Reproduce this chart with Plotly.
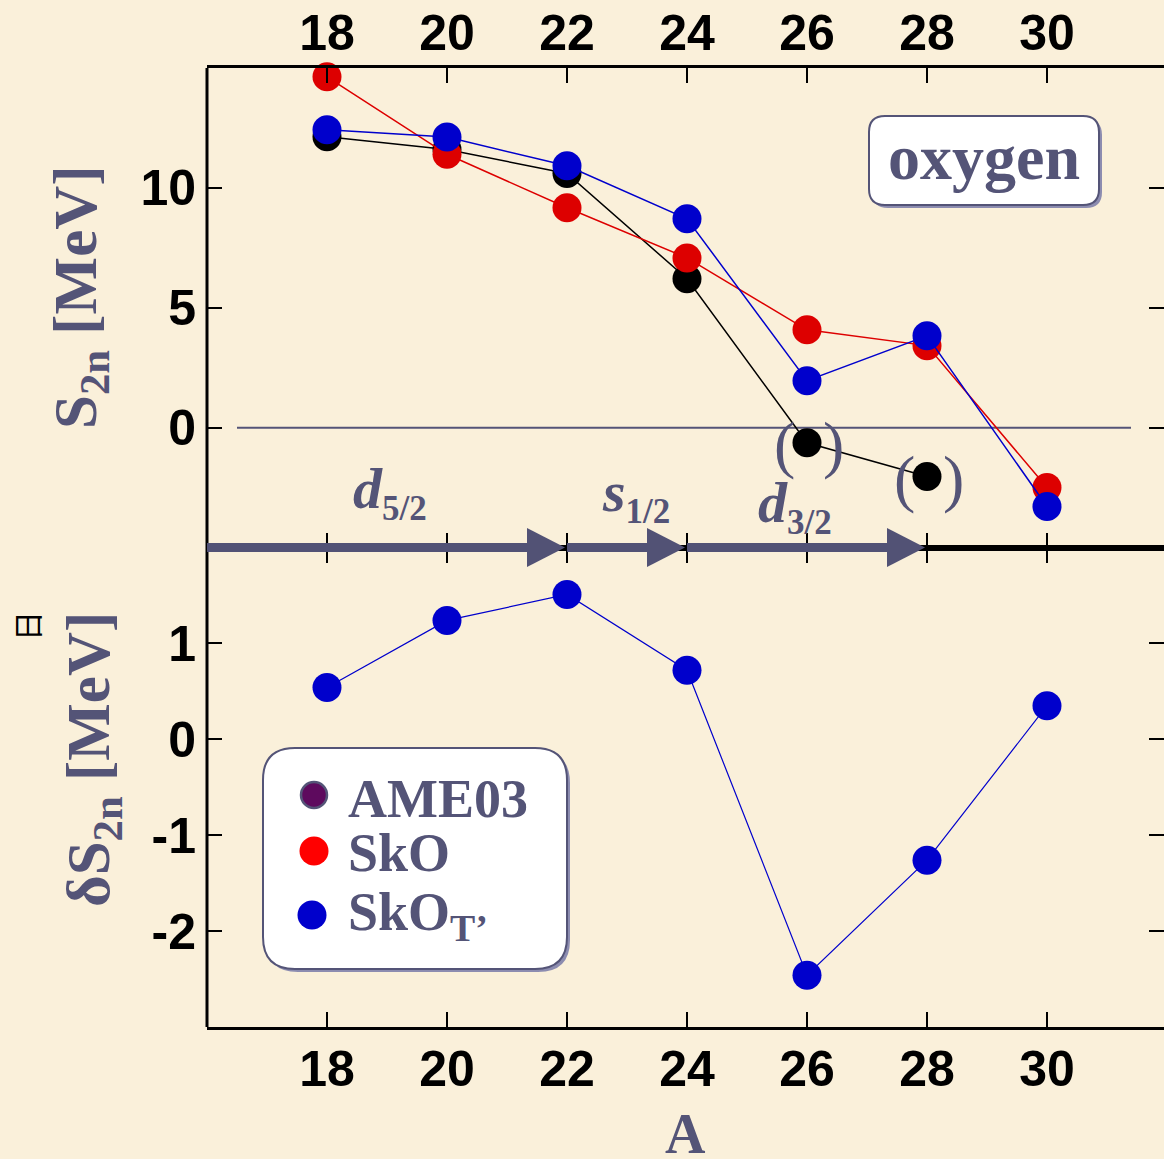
import plotly.graph_objects as go

# ---- data -------------------------------------------------------------
A = [18, 20, 22, 24, 26, 28, 30]
s2n_ame03 = [12.13, 11.6, 10.6, 6.21, -0.63, -2.04, None]
s2n_sko = [14.63, 11.4, 9.17, 7.08, 4.08, 3.42, -2.5]
s2n_skot = [12.42, 12.12, 10.92, 8.71, 1.96, 3.83, -3.29]
ds2n_skot = [0.54, 1.24, 1.51, 0.72, -2.46, -1.26, 0.35]

a_ticks = [18, 20, 22, 24, 26, 28, 30]
s2n_ticks = [0, 5, 10]
ds2n_ticks = [-2, -1, 0, 1]
ds2n_ticktext = ["-2", "-1", "0", "1"]

shell_start = [16, 22, 24]
shell_end = [22, 24, 28]
shell_orbit = ["d", "s", "d"]
shell_j = ["5/2", "1/2", "3/2"]
unbound_A = [26, 28]          # AME03 values shown in parentheses

series_names = ["AME03", "SkO", "SkO<sub>T’</sub>"]

# ---- layout constants -------------------------------------------------
W, H = 1164, 1159
ML, MR, MT, MB = 207, 0, 68, 132
X_RANGE = [16, 16 + (W - ML - MR) / 60.0]
Y_TOP = [-5, 15]
Y_BOT = [-3, 2]

SLATE = "#545477"
SERIF = "Liberation Serif"
SANS = "Liberation Sans"
BG = "#faf0da"
RED, BLUE, BLACK = "#dd0000", "#0000cc", "#000000"


def px_x(px):
    return (px - ML) / (W - ML - MR)


def px_y(py):
    return (H - MB - py) / (H - MT - MB)


def a_to_paper(a):
    return (a - X_RANGE[0]) / (X_RANGE[1] - X_RANGE[0])


def rounded_rect(w, h, r):
    x0, x1, y0, y1 = -w / 2, w / 2, -h / 2, h / 2
    return (f"M {x0 + r},{y0} L {x1 - r},{y0} Q {x1},{y0} {x1},{y0 + r} "
            f"L {x1},{y1 - r} Q {x1},{y1} {x1 - r},{y1} L {x0 + r},{y1} "
            f"Q {x0},{y1} {x0},{y1 - r} L {x0},{y0 + r} Q {x0},{y0} {x0 + r},{y0} Z")


fig = go.Figure()

# ---- S2n panel --------------------------------------------------------
for vals, col in [(s2n_ame03, BLACK), (s2n_sko, RED), (s2n_skot, BLUE)]:
    fig.add_trace(go.Scatter(
        x=A, y=vals, mode="lines+markers", xaxis="x", yaxis="y",
        line=dict(color=col, width=1.5),
        marker=dict(color=col, size=29, line=dict(width=0)),
        showlegend=False, cliponaxis=False, hoverinfo="x+y"))

# ---- delta S2n panel --------------------------------------------------
fig.add_trace(go.Scatter(
    x=A, y=ds2n_skot, mode="lines+markers", xaxis="x2", yaxis="y2",
    line=dict(color=BLUE, width=1.2),
    marker=dict(color=BLUE, size=29, line=dict(width=0)),
    showlegend=False, cliponaxis=False))

shapes = []
annotations = []

# zero line of the S2n panel
shapes.append(dict(type="line", xref="x", yref="y", x0=16.5, x1=31.4, y0=0, y1=0,
                   line=dict(color=SLATE, width=2), layer="below"))

# left frame line
shapes.append(dict(type="line", xref="paper", yref="paper", x0=0, x1=0, y0=0, y1=1,
                   line=dict(color="black", width=3)))

# shell-filling arrows along the panel boundary
for s, e in zip(shell_start, shell_end):
    shapes.append(dict(type="line", xref="paper", yref="paper",
                       x0=a_to_paper(s), x1=a_to_paper(e) - 20 / 957, y0=0.5, y1=0.5,
                       line=dict(color="#525275", width=9)))
    shapes.append(dict(type="path", xref="paper", yref="paper",
                       xsizemode="pixel", ysizemode="pixel",
                       xanchor=a_to_paper(e), yanchor=0.5,
                       path="M -40,19.5 L -2,0 L -40,-19.5 Z",
                       fillcolor="#525275", line=dict(width=0)))

shell_label_x = [19.05, 23.15, 25.8]
shell_label_y = [px_y(492), px_y(495), px_y(506)]
for orb, j, lx, ly in zip(shell_orbit, shell_j, shell_label_x, shell_label_y):
    annotations.append(dict(
        x=a_to_paper(lx), y=ly, xref="paper", yref="paper",
        text=f"<i>{orb}</i><sub><span style='font-size:35px'>{j}</span></sub>",
        showarrow=False, xanchor="center", yanchor="middle",
        font=dict(family=SERIF, size=58, color=SLATE, weight="bold")))

# parentheses around the unbound AME03 values
for a in unbound_A:
    v = s2n_ame03[A.index(a)]
    for ch, dx in [("(", -23), (")", 26)]:
        annotations.append(dict(x=a, y=v, xref="x", yref="y", text=ch, showarrow=False,
                                xshift=dx, yshift=-2, xanchor="center", yanchor="middle",
                                font=dict(family=SERIF, size=64, color=SLATE)))

# "oxygen" label box
ox_cx, ox_cy = px_x(984), px_y(160.5)
shapes.append(dict(type="path", xref="paper", yref="paper", xsizemode="pixel",
                   ysizemode="pixel", xanchor=ox_cx + 3 / 957, yanchor=ox_cy - 3 / 959,
                   path=rounded_rect(230, 89, 16), fillcolor="#8c8cb0", line=dict(width=0)))
shapes.append(dict(type="path", xref="paper", yref="paper", xsizemode="pixel",
                   ysizemode="pixel", xanchor=ox_cx, yanchor=ox_cy,
                   path=rounded_rect(230, 89, 16), fillcolor="white",
                   line=dict(color=SLATE, width=2)))
annotations.append(dict(x=ox_cx, y=px_y(157), xref="paper", yref="paper", text="oxygen",
                        showarrow=False, xanchor="center", yanchor="middle",
                        font=dict(family=SERIF, size=64, color=SLATE, weight="bold")))

# legend box
lg_cx, lg_cy = px_x(415), px_y(858.5)
shapes.append(dict(type="path", xref="paper", yref="paper", xsizemode="pixel",
                   ysizemode="pixel", xanchor=lg_cx + 3 / 957, yanchor=lg_cy - 3 / 959,
                   path=rounded_rect(304, 221, 32), fillcolor="#8c8cb0", line=dict(width=0)))
shapes.append(dict(type="path", xref="paper", yref="paper", xsizemode="pixel",
                   ysizemode="pixel", xanchor=lg_cx, yanchor=lg_cy,
                   path=rounded_rect(304, 221, 32), fillcolor="white",
                   line=dict(color=SLATE, width=2)))
legend_marker = [("#5e0a5e", SLATE, 2.5, 13), ("#ff0000", "#ff0000", 0, 14.5),
                 (BLUE, BLUE, 0, 14.5)]
legend_rows = [(314, 795, 799), (314, 851, 853), (312, 915, 915)]
for name, (fc, lc, lw, r), (mx, my, ty) in zip(series_names, legend_marker, legend_rows):
    shapes.append(dict(type="circle", xref="paper", yref="paper", xsizemode="pixel",
                       ysizemode="pixel", xanchor=px_x(mx), yanchor=px_y(my),
                       x0=-r, x1=r, y0=-r, y1=r, fillcolor=fc,
                       line=dict(color=lc, width=lw)))
    annotations.append(dict(x=px_x(346), y=px_y(ty), xref="paper", yref="paper",
                            text=name, showarrow=False, xanchor="left", yanchor="middle",
                            font=dict(family=SERIF, size=54, color=SLATE, weight="bold")))

# axis titles
annotations.append(dict(x=px_x(80), y=px_y(297), xref="paper", yref="paper",
                        text="S<sub>2n</sub> [MeV]", textangle=-90, showarrow=False,
                        xanchor="center", yanchor="middle",
                        font=dict(family=SERIF, size=61, color=SLATE, weight="bold")))
annotations.append(dict(x=px_x(93), y=px_y(760), xref="paper", yref="paper",
                        text="δS<sub>2n</sub> [MeV]", textangle=-90, showarrow=False,
                        xanchor="center", yanchor="middle",
                        font=dict(family=SERIF, size=61, color=SLATE, weight="bold")))
annotations.append(dict(x=px_x(26), y=px_y(626), xref="paper", yref="paper",
                        text="日", textangle=-90, showarrow=False,
                        xanchor="center", yanchor="middle",
                        font=dict(family="Noto Sans CJK SC", size=30, color="black")))
annotations.append(dict(x=px_x(685), y=px_y(1134), xref="paper", yref="paper",
                        text="A", showarrow=False, xanchor="center", yanchor="middle",
                        height=46, valign="middle",
                        font=dict(family=SERIF, size=56, color=SLATE, weight="bold")))

tick_font = dict(family=SANS, size=50, color="black", weight="bold")
xcommon = dict(range=X_RANGE, tickvals=a_ticks, ticks="inside", ticklen=15, tickwidth=2,
               tickcolor="black", showline=True, linecolor="black", linewidth=3,
               mirror="ticks", showgrid=False, zeroline=False, tickfont=tick_font,
               automargin=False)
ycommon = dict(ticks="inside", ticklen=15, tickwidth=2, tickcolor="black",
               showline=False, mirror="ticks", showgrid=False, zeroline=False,
               tickfont=tick_font, ticklabelstandoff=10, automargin=False)

fig.update_layout(
    width=W, height=H,
    margin=dict(l=ML, r=MR, t=MT, b=MB, autoexpand=False),
    paper_bgcolor=BG, plot_bgcolor=BG,
    showlegend=False,
    xaxis=dict(**xcommon, side="top", anchor="y", ticklabelstandoff=-5),
    yaxis=dict(**ycommon, domain=[0.5, 1], range=Y_TOP, tickvals=s2n_ticks, anchor="x"),
    xaxis2=dict(**xcommon, side="bottom", anchor="y2", matches="x", ticklabelstandoff=-4),
    yaxis2=dict(**ycommon, domain=[0, 0.5], range=Y_BOT, tickvals=ds2n_ticks,
                ticktext=ds2n_ticktext, anchor="x2"),
    shapes=shapes,
    annotations=annotations,
)

fig.write_html("out.html")
